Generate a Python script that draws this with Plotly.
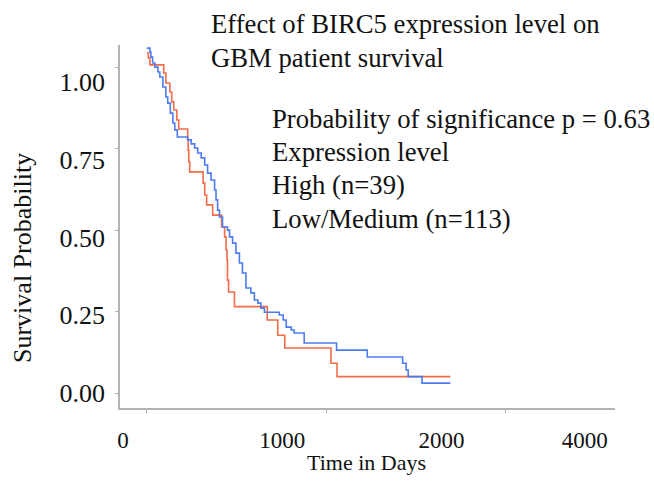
import plotly.graph_objects as go

# ---- data ----
high_days = [150, 159, 169, 256, 269, 294, 306, 319, 338, 350, 406, 409, 413, 419,
             503, 513, 525, 563, 619, 638, 647, 653, 656, 663, 700, 906, 972, 1016,
             1306, 1344, 2056]
high_surv = [1.093, 1.077, 1.055, 1.029, 0.997, 0.968, 0.936, 0.910, 0.878, 0.849,
             0.814, 0.781, 0.743, 0.711, 0.675, 0.637, 0.605, 0.572, 0.534, 0.502,
             0.460, 0.428, 0.363, 0.325, 0.278, 0.235, 0.186, 0.145, 0.096, 0.053,
             0.053]

low_days = [150, 169, 175, 186, 200, 219, 231, 250, 269, 281, 297, 313, 325, 341,
            406, 428, 450, 469, 491, 513, 531, 553, 575, 584, 594, 606, 625, 656,
            669, 688, 709, 731, 750, 772, 803, 825, 847, 866, 888, 981, 1006, 1025,
            1056, 1075, 1138, 1341, 1534, 1756, 1778, 1791, 1878, 2056]
low_surv = [1.109, 1.096, 1.080, 1.061, 1.048, 1.032, 1.016, 0.984, 0.952, 0.932,
            0.900, 0.868, 0.846, 0.823, 0.814, 0.801, 0.788, 0.772, 0.756, 0.733,
            0.707, 0.685, 0.653, 0.621, 0.588, 0.566, 0.534, 0.524, 0.502, 0.482,
            0.450, 0.418, 0.386, 0.338, 0.322, 0.299, 0.289, 0.273, 0.260, 0.251,
            0.235, 0.212, 0.203, 0.193, 0.161, 0.138, 0.116, 0.096, 0.074, 0.053,
            0.032, 0.032]

x_tickvals = [0, 1000, 2000, 2900]
x_ticktext = ["0", "1000", "2000", "4000"]
y_tickvals = [0.0, 0.25, 0.5, 0.75, 1.0]
y_ticktext = ["0.00", "0.25", "0.50", "0.75", "1.00"]

title_lines = ["Effect of BIRC5 expression level on", "GBM patient survival"]
legend_lines = ["Probability of significance p = 0.63", "Expression level",
                "High (n=39)", "Low/Medium (n=113)"]

FONT = "Liberation Serif"
RED = "#F26C4A"
BLUE = "#4C7BF0"
AXIS = "#b3b3b3"

fig = go.Figure()
fig.add_trace(go.Scatter(x=high_days, y=high_surv, mode="lines", line_shape="hv",
                         line=dict(color=RED, width=1.6), showlegend=False))
fig.add_trace(go.Scatter(x=low_days, y=low_surv, mode="lines", line_shape="hv",
                         line=dict(color=BLUE, width=1.6), showlegend=False))

W, H = 654, 481
L, R, T, B = 120, 39, 45, 73
pw, ph = W - L - R, H - T - B


def px(x):
    return (x - L) / pw


def py(y):
    return (H - B - y) / ph


ann = []
for i, t in enumerate(title_lines):
    ann.append(dict(text=t, x=px(209), y=py([24, 58.5][i]), xref="paper", yref="paper",
                    xanchor="left", yanchor="middle", showarrow=False,
                    font=dict(family=FONT, size=26.7, color="#111")))
for i, t in enumerate(legend_lines):
    ann.append(dict(text=t, x=px(270), y=py([118.5, 151.5, 185, 218.5][i]), xref="paper",
                    yref="paper", xanchor="left", yanchor="middle", showarrow=False,
                    font=dict(family=FONT, size=26.7, color="#111")))
ann.append(dict(text="Survival Probability", x=px(22), y=py(258), xref="paper", yref="paper",
                xanchor="center", yanchor="middle", textangle=-90, showarrow=False,
                font=dict(family=FONT, size=26, color="#111")))
ann.append(dict(text="Time in Days", x=px(366), y=py(462), xref="paper", yref="paper",
                xanchor="center", yanchor="middle", showarrow=False,
                font=dict(family=FONT, size=22, color="#111")))

fig.update_layout(
    width=W, height=H,
    margin=dict(l=L, r=R, t=T, b=B),
    paper_bgcolor="white", plot_bgcolor="white",
    annotations=ann,
    xaxis=dict(range=[-19, 3090], tickmode="array", tickvals=x_tickvals, ticktext=x_ticktext,
               showgrid=False, zeroline=False, showline=True, linecolor=AXIS, linewidth=1.5,
               ticks="", ticklabelstandoff=11,
               tickfont=dict(family=FONT, size=23, color="#111"),
               minor=dict(ticks="outside", tick0=150, dtick=1125, ticklen=3,
                          tickcolor=AXIS, tickwidth=1, showgrid=False)),
    yaxis=dict(range=[-0.048, 1.119], tickmode="array", tickvals=y_tickvals, ticktext=y_ticktext,
               showgrid=False, zeroline=False, showline=True, linecolor=AXIS, linewidth=1.5,
               ticks="", ticklabelstandoff=8,
               tickfont=dict(family=FONT, size=26, color="#111"),
               minor=dict(ticks="outside", tick0=0, dtick=0.262, ticklen=3,
                          tickcolor=AXIS, tickwidth=1, showgrid=False)),
)

fig.write_html("out.html")
